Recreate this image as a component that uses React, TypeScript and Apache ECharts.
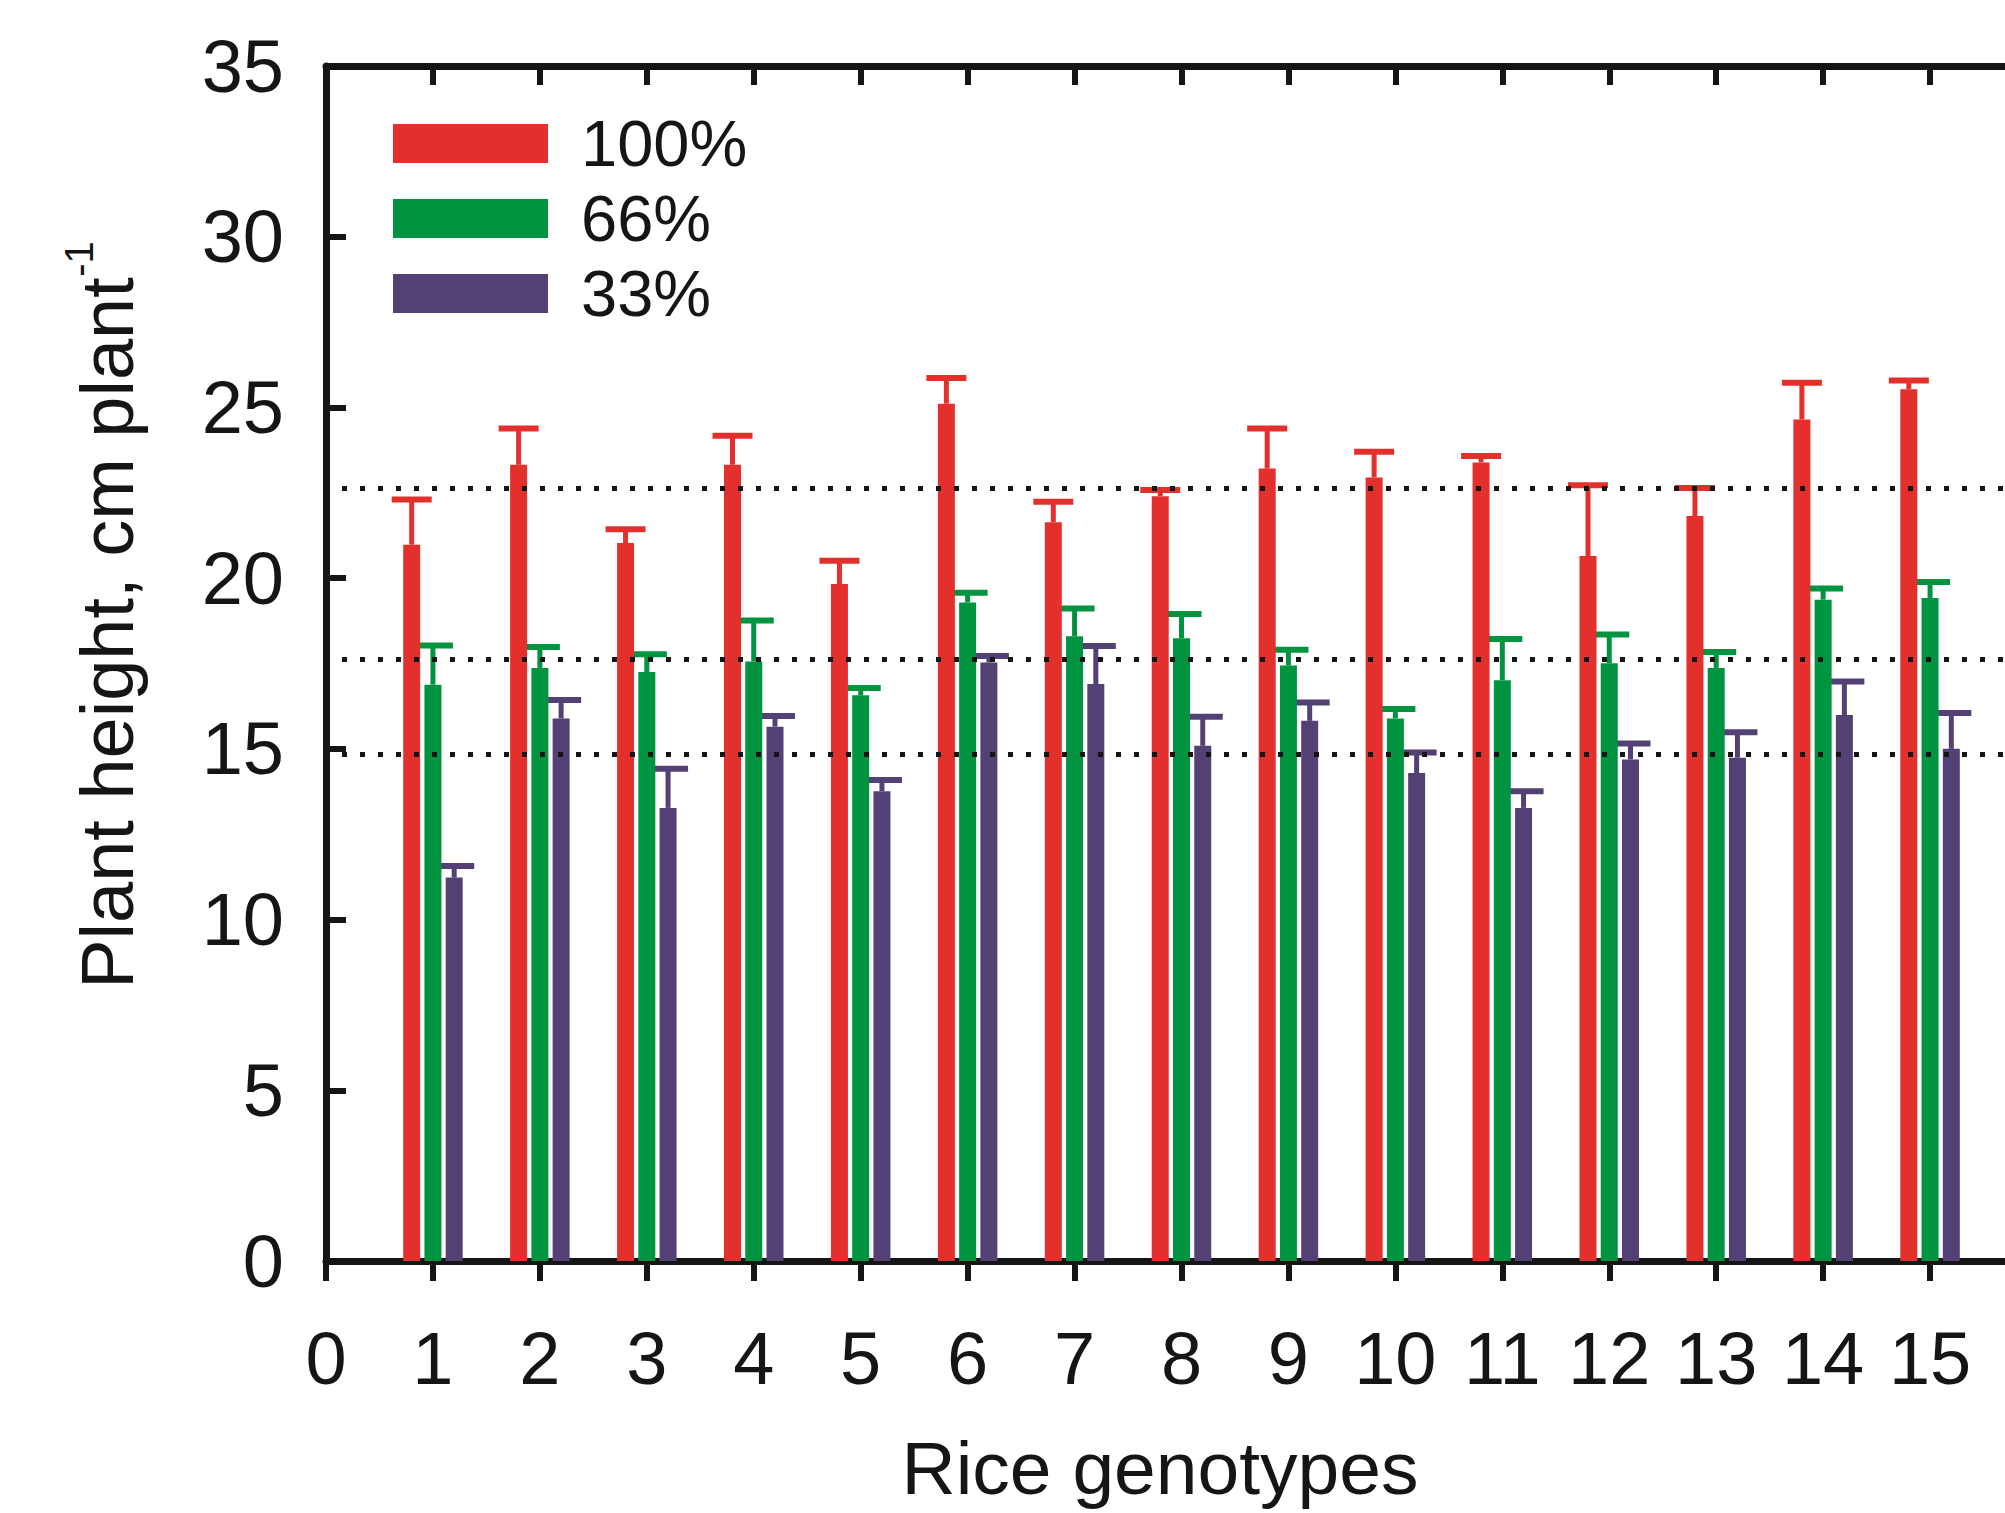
import React, { useEffect, useRef } from "react";
import * as echarts from "echarts";

const genotypes = [1, 2, 3, 4, 5, 6, 7, 8, 9, 10, 11, 12, 13, 14, 15];
const seriesNames = ["100%", "66%", "33%"];
const height100 = [20.98, 23.32, 21.03, 23.32, 19.83, 25.11, 21.64, 22.40, 23.21, 22.95, 23.39, 20.65, 21.82, 24.65, 25.53];
const err100 = [1.32, 1.06, 0.40, 0.85, 0.68, 0.75, 0.60, 0.18, 1.17, 0.75, 0.19, 2.07, 0.82, 1.07, 0.26];
const height66 = [16.88, 17.37, 17.25, 17.56, 16.57, 19.29, 18.30, 18.24, 17.44, 15.89, 17.01, 17.51, 17.37, 19.37, 19.42];
const err66 = [1.15, 0.61, 0.52, 1.20, 0.21, 0.28, 0.81, 0.71, 0.46, 0.28, 1.21, 0.84, 0.47, 0.33, 0.47];
const height33 = [11.23, 15.89, 13.27, 15.65, 13.76, 17.53, 16.90, 15.09, 15.82, 14.29, 13.27, 14.69, 14.74, 15.99, 15.00];
const err33 = [0.34, 0.54, 1.15, 0.31, 0.33, 0.19, 1.11, 0.85, 0.54, 0.60, 0.49, 0.47, 0.75, 0.98, 1.05];
const meanLines = [22.64, 17.63, 14.85];

const colors = ["#E3302D", "#009440", "#534175"];
const FONT = "'Liberation Sans', Arial, Helvetica, sans-serif";
const INK = "#151515";

export default function App() {
  const ref = useRef<HTMLDivElement>(null);

  useEffect(() => {
    if (!ref.current) return;
    const chart = echarts.init(ref.current, null, { renderer: "svg" });
    const heights = [height100, height66, height33];
    const errs = [err100, err66, err33];
    const barW = 17;
    const gap = 4.25;
    const series: any[] = [];
    heights.forEach((h, i) => {
      const offset = (i - 1) * (barW + gap);
      series.push({
        name: seriesNames[i],
        type: "bar",
        xAxisIndex: 0,
        barWidth: barW,
        barGap: "25%",
        itemStyle: { color: colors[i] },
        data: genotypes.map((g, k) => [g, h[k]]),
      });
      series.push({
        name: "err" + seriesNames[i],
        type: "custom",
        xAxisIndex: 0,
        encode: { x: 0, y: 1 },
        data: genotypes.map((g, k) => [g, h[k], errs[i][k]]),
        renderItem: (params: any, api: any) => {
          const x = api.value(0);
          const y = api.value(1);
          const e = api.value(2);
          const base = api.coord([x, y]);
          const top = api.coord([x, y + e]);
          const cx = base[0] + offset;
          return {
            type: "group",
            children: [
              {
                type: "line",
                shape: { x1: cx, y1: base[1], x2: cx, y2: top[1] },
                style: { stroke: colors[i], lineWidth: 5 },
              },
              {
                type: "line",
                shape: { x1: cx - 20, y1: top[1], x2: cx + 20, y2: top[1] },
                style: { stroke: colors[i], lineWidth: 6 },
              },
            ],
          };
        },
      });
    });
    series.push({
      name: "means",
      type: "line",
      data: [],
      markLine: {
        silent: true,
        symbol: "none",
        label: { show: false },
        lineStyle: { color: INK, width: 5, type: [5, 13], dashOffset: 2 },
        data: meanLines.map((v) => ({ yAxis: v })),
        z: 10,
      },
    });

    chart.setOption({
      animation: false,
      backgroundColor: "#ffffff",
      grid: { left: 326, right: 3, top: 66, bottom: 252, containLabel: false },
      legend: {
        orient: "vertical",
        left: 393,
        top: 111,
        padding: 0,
        itemWidth: 155,
        itemHeight: 39,
        itemGap: 10,
        icon: "rect",
        data: seriesNames,
        selectedMode: false,
        textStyle: { fontSize: 65, fontFamily: FONT, color: INK, padding: [0, 0, 0, 28] },
      },
      xAxis: [
        {
          type: "value",
          position: "bottom",
          min: 0,
          max: 16,
          interval: 1,
          axisLine: { show: true, onZero: false, lineStyle: { color: INK, width: 7 } },
          axisTick: { show: true, inside: false, length: 20, lineStyle: { color: INK, width: 6 } },
          axisLabel: { show: true, margin: 60, fontSize: 74, fontFamily: FONT, color: INK, showMaxLabel: false },
          splitLine: { show: false },
        },
        {
          type: "value",
          position: "top",
          min: 0,
          max: 16,
          interval: 1,
          axisLine: { show: true, onZero: false, lineStyle: { color: INK, width: 7 } },
          axisTick: { show: true, inside: true, length: 19, lineStyle: { color: INK, width: 6 } },
          axisLabel: { show: false },
          splitLine: { show: false },
        },
      ],
      yAxis: {
        type: "value",
        min: 0,
        max: 35,
        interval: 5,
        axisLine: { show: true, lineStyle: { color: INK, width: 7 } },
        axisTick: { show: true, inside: true, length: 20, lineStyle: { color: INK, width: 6 } },
        axisLabel: { show: true, margin: 42, fontSize: 74, fontFamily: FONT, color: INK },
        splitLine: { show: false },
      },
      graphic: [
        {
          type: "text",
          x: 107,
          y: 633,
          rotation: Math.PI / 2,
          style: {
            text: "Plant height, cm plant",
            fontSize: 74,
            fontFamily: FONT,
            fill: INK,
            align: "center",
            verticalAlign: "middle",
          },
        },
        {
          type: "text",
          x: 79,
          y: 259,
          rotation: Math.PI / 2,
          style: {
            text: "-1",
            fontSize: 40,
            fontFamily: FONT,
            fill: INK,
            align: "center",
            verticalAlign: "middle",
          },
        },
        {
          type: "text",
          x: 1160,
          y: 1468,
          style: {
            text: "Rice genotypes",
            fontSize: 75,
            fontFamily: FONT,
            fill: INK,
            align: "center",
            verticalAlign: "middle",
          },
        },
      ],
      series,
    });
    return () => chart.dispose();
  }, []);

  return (
    <div
      style={{
        position: "absolute",
        left: 0,
        top: 0,
        width: 2005,
        height: 1513,
        overflow: "hidden",
        background: "#fff",
      }}
    >
      <div ref={ref} style={{ width: 2040, height: 1513 }} />
    </div>
  );
}
